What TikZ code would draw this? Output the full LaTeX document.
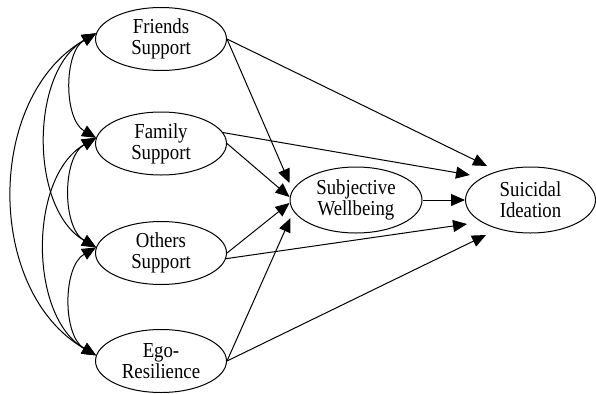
\documentclass[tikz,border=0pt]{standalone}
\usepackage{fontspec}
\setmainfont{Liberation Serif}[FakeStretch=0.88]
\usetikzlibrary{shapes.geometric,arrows.meta,calc}

\tikzset{every picture/.style={line width=0.75pt}}
\tikzset{
  latent/.style={draw, ellipse, inner sep=0pt, minimum width=98.25pt, minimum height=47.25pt, align=center, font=\fontsize{16}{15.75}\selectfont},
  regpath/.style={-{Triangle[length=10.5pt,width=9pt]}},
  covpath/.style={{Triangle[length=10.5pt,width=9pt]}-{Triangle[length=10.5pt,width=9pt]}, out=150, in=210, looseness=0.92}
}

\begin{document}
\begin{tikzpicture}[x=0.75pt,y=0.75pt,yscale=-1,xscale=1]
\useasboundingbox (0,0) rectangle (596,393);

%Shape: Ellipse [predictors]
\node[latent] (friends) at (161,39) {Friends\\Support};
\node[latent] (family) at (161,143.5) {Family\\Support};
\node[latent] (others) at (161,253) {Others\\Support};
\node[latent] (ego) at (161,361) {Ego-\\Resilience};
%Shape: Ellipse [mediator, outcome]
\node[latent, minimum width=99pt, minimum height=49.5pt] (wellbeing) at (356,200) {Subjective\\Wellbeing};
\node[latent, minimum width=97.5pt, minimum height=49.5pt] (ideation) at (530.5,200) {Suicidal\\Ideation};

% Covariances
\draw[covpath] (friends.175) to (family.175);
\draw[covpath] (friends.175) to (others.175);
\draw[covpath, looseness=1.02] (friends.175) to (ego.175);
\draw[covpath] (family.175) to (others.175);
\draw[covpath] (family.175) to (ego.175);
\draw[covpath] (others.175) to (ego.175);

% Connection
\draw[regpath] (friends.east) -- ($(wellbeing.west)+(0,-17)$);
\draw[regpath] (family.east) -- ($(wellbeing.west)+(0,-3)$);
\draw[regpath] (others.east) -- ($(wellbeing.west)+(0,3)$);
\draw[regpath] (ego.east) -- ($(wellbeing.west)+(1,18)$);
% Connection
\draw[regpath] (friends.east) -- ($(ideation.west)+(22,-34)$);
\draw[regpath] (family.10) -- ($(ideation.west)+(5,-25)$);
\draw[regpath] (wellbeing.east) -- (ideation.west);
\draw[regpath] (others.-5) -- ($(ideation.west)+(2,24)$);
\draw[regpath] (ego.east) -- ($(ideation.west)+(21,35)$);

\end{tikzpicture}
\end{document}
